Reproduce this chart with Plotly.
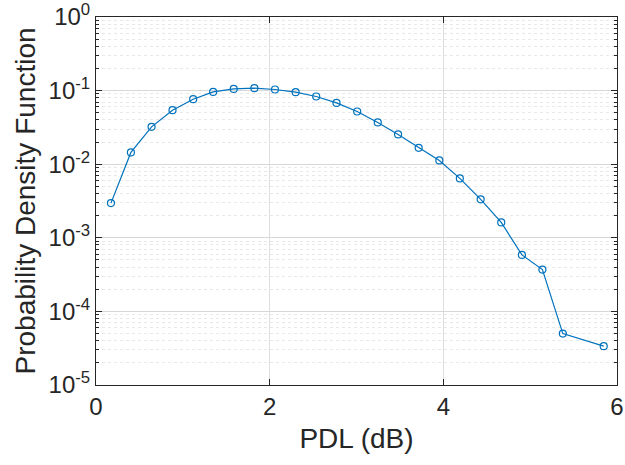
import plotly.graph_objects as go

pdl_db = [0.172, 0.402, 0.640, 0.881, 1.119, 1.349, 1.586, 1.824, 2.061, 2.299,
          2.536, 2.770, 3.008, 3.245, 3.479, 3.716, 3.954, 4.190, 4.430, 4.667,
          4.905, 5.141, 5.376, 5.847]
pdf_vals = [2.96e-3, 1.445e-2, 3.22e-2, 5.42e-2, 7.64e-2, 9.6e-2, 0.1055, 0.1078,
            0.1035, 0.0951, 0.0832, 0.068, 0.052, 0.0369, 0.0254, 0.0167, 0.01125,
            6.41e-3, 3.33e-3, 1.62e-3, 5.85e-4, 3.7e-4, 5.0e-5, 3.37e-5]

x_ticks = [0, 2, 4, 6]
y_exps = [-5, -4, -3, -2, -1, 0]
y_ticks = [10.0 ** e for e in y_exps]
y_ticktext = ["10<sup>%d</sup>" % e for e in y_exps]
y_minor = [m * 10.0 ** e for e in y_exps[:-1] for m in range(2, 10)]

axis_col = "#262626"
font_family = "Liberation Sans, Arial, Helvetica, sans-serif"

fig = go.Figure()
fig.add_trace(go.Scatter(
    x=pdl_db, y=pdf_vals, mode="lines+markers",
    line=dict(color="#0072BD", width=1.2),
    marker=dict(symbol="circle-open", size=7, color="#0072BD", line=dict(width=1.2)),
    showlegend=False,
))

fig.update_layout(
    width=625, height=465,
    margin=dict(l=96, r=8, t=17, b=80),
    paper_bgcolor="white", plot_bgcolor="white",
    font=dict(family=font_family, color=axis_col, size=24),
    xaxis=dict(
        range=[0, 6], tickvals=x_ticks, ticktext=[str(v) for v in x_ticks],
        automargin=False,
        showgrid=True, gridcolor="#dedede", gridwidth=1,
        showline=True, linecolor=axis_col, linewidth=1, mirror="ticks",
        ticks="inside", ticklen=6, tickcolor=axis_col,
        zeroline=False,
        title=dict(text="PDL (dB)", font=dict(size=28), standoff=9),
        tickfont=dict(size=24),
    ),
    yaxis=dict(
        type="log", range=[-5, 0], tickvals=y_ticks, ticktext=y_ticktext,
        automargin=False,
        showgrid=True, gridcolor="#d8d8d8", gridwidth=1,
        showline=True, linecolor=axis_col, linewidth=1, mirror="ticks",
        ticks="inside", ticklen=6, tickcolor=axis_col,
        zeroline=False,
        minor=dict(tickvals=y_minor, showgrid=True, gridcolor="#e8e8e8",
                   griddash="dot", ticks="inside", ticklen=3, tickcolor=axis_col),
        title=dict(text="Probability Density Function", font=dict(size=28), standoff=4),
        tickfont=dict(size=24),
    ),
)

fig.write_html("out.html")
